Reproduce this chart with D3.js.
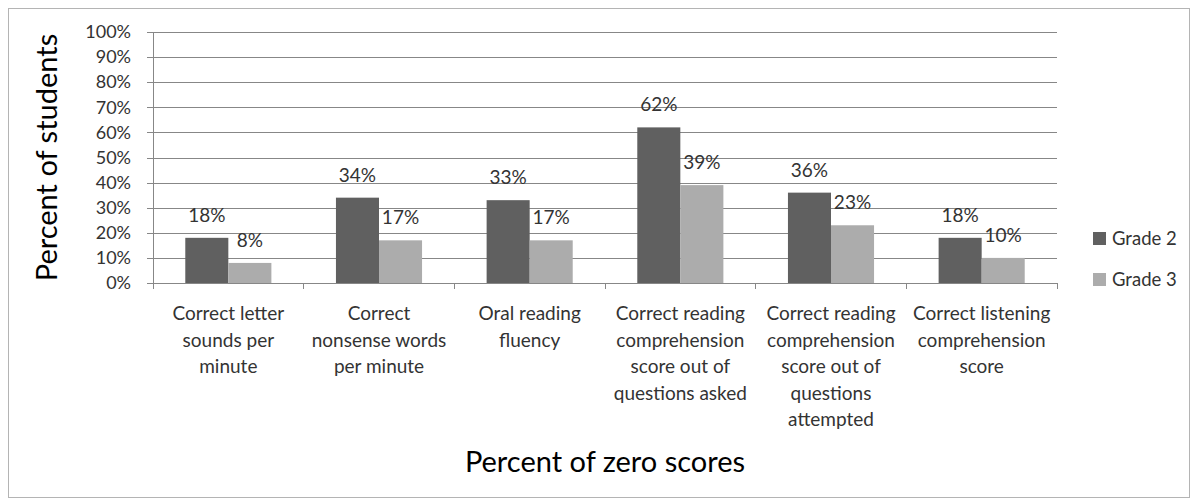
<!DOCTYPE html>
<meta charset="utf-8">
<head>
<script src="https://d3js.org/d3.v7.min.js"></script>
<style>
  body { margin: 0; background: #fff; }
  text { font-family: Lato, "Open Sans", sans-serif; fill: #333; }
</style>
</head>
<body>
<div class="viz"></div>
<script>
  // data
  var categories = [
    ["Correct letter", "sounds per", "minute"],
    ["Correct", "nonsense words", "per minute"],
    ["Oral reading", "fluency"],
    ["Correct reading", "comprehension", "score out of", "questions asked"],
    ["Correct reading", "comprehension", "score out of", "questions", "attempted"],
    ["Correct listening", "comprehension", "score"]
  ];
  var grade2 = [18, 34, 33, 62, 36, 18];
  var grade3 = [8, 17, 17, 39, 23, 10];
  var seriesNames = ["Grade 2", "Grade 3"];
  var yTicks = [0, 10, 20, 30, 40, 50, 60, 70, 80, 90, 100];

  var width = 1198, height = 502;
  var colors = d3.scaleOrdinal().domain(seriesNames).range(["#606060", "#acacac"]);

  var svg = d3.select("div.viz").append("svg")
    .attr("width", width)
    .attr("height", height);

  // outer frame
  svg.append("rect")
    .attr("x", 8.5).attr("y", 8.5)
    .attr("width", 1181).attr("height", 489)
    .style("fill", "none").style("stroke", "#b4b4b4");

  // plot box (window.top is read-only, so not "top")
  var pL = 153, pR = 1057, pT = 32, pB = 283;
  var keys = categories.map(function(d, i) { return i; });

  var x0 = d3.scaleBand().domain(keys).range([pL, pR]).padding(0);
  var x1 = d3.scaleBand().domain(seriesNames).range([0, x0.bandwidth()])
    .paddingInner(0).paddingOuter(0.75);
  var y = d3.scaleLinear().domain([0, 100]).range([pB, pT]);

  // gridlines + y axis
  var yAxis = d3.axisLeft(y).tickValues(yTicks)
    .tickSize(-(pR - pL)).tickSizeOuter(0).tickPadding(22)
    .tickFormat(function(d) { return d + "%"; });
  var gy = svg.append("g").attr("transform", "translate(" + pL + ",0)").call(yAxis);
  gy.select(".domain").remove();
  gy.selectAll(".tick line").attr("x1", -6).style("stroke", "#878787").attr("shape-rendering", "crispEdges");
  gy.selectAll(".tick text").style("font-size", "18px").style("fill", "#333").style("font-family", null);

  svg.append("line")
    .attr("x1", pL).attr("x2", pL).attr("y1", pT).attr("y2", pB)
    .style("stroke", "#878787").attr("shape-rendering", "crispEdges");

  // bars
  var rows = keys.map(function(i) {
    return { i: i, vals: [grade2[i], grade3[i]] };
  });
  var groups = svg.selectAll("g.cat").data(rows).enter().append("g")
    .attr("class", "cat")
    .attr("transform", function(d) { return "translate(" + x0(d.i) + ",0)"; });

  groups.selectAll("rect").data(function(d) {
    return d.vals.map(function(v, j) { return { name: seriesNames[j], v: v }; });
  }).enter().append("rect")
    .attr("x", function(d) { return x1(d.name); })
    .attr("y", function(d) { return y(d.v); })
    .attr("width", x1.bandwidth())
    .attr("height", function(d) { return pB - y(d.v); })
    .style("fill", function(d) { return colors(d.name); });

  groups.selectAll("text.lbl").data(function(d) {
    return d.vals.map(function(v, j) { return { name: seriesNames[j], v: v }; });
  }).enter().append("text")
    .attr("class", "lbl")
    .attr("x", function(d) { return x1(d.name) + x1.bandwidth() / 2; })
    .attr("y", function(d) { return y(d.v) - 16; })
    .attr("text-anchor", "middle")
    .style("font-size", "19px")
    .text(function(d) { return d.v + "%"; });

  // x axis
  svg.append("line")
    .attr("x1", pL).attr("x2", pR).attr("y1", pB).attr("y2", pB)
    .style("stroke", "#878787").attr("shape-rendering", "crispEdges");
  var bounds = keys.map(function(i) { return x0(i); }).concat([pR]);
  svg.selectAll("line.xtick").data(bounds).enter().append("line")
    .attr("class", "xtick")
    .attr("x1", function(d) { return d; }).attr("x2", function(d) { return d; })
    .attr("y1", pB).attr("y2", pB + 6)
    .style("stroke", "#878787").attr("shape-rendering", "crispEdges");

  var xl = svg.selectAll("text.xl").data(rows).enter().append("text")
    .attr("class", "xl")
    .attr("text-anchor", "middle")
    .style("font-size", "19px");
  xl.selectAll("tspan").data(function(d) { return categories[d.i].map(function(s) { return { s: s, i: d.i }; }); })
    .enter().append("tspan")
    .attr("x", function(d) { return x0(d.i) + x0.bandwidth() / 2; })
    .attr("y", function(d, k) { return 320 + k * 26.5; })
    .text(function(d) { return d.s; });

  // axis titles
  svg.append("text")
    .attr("transform", "translate(57," + ((pT + pB) / 2) + ") rotate(-90)")
    .attr("text-anchor", "middle")
    .style("font-size", "29px").style("fill", "#000")
    .text("Percent of students");

  svg.append("text")
    .attr("x", (pL + pR) / 2).attr("y", 472)
    .attr("text-anchor", "middle")
    .style("font-size", "29px").style("fill", "#000")
    .text("Percent of zero scores");

  // legend
  var leg = svg.selectAll("g.leg").data(seriesNames).enter().append("g")
    .attr("class", "leg")
    .attr("transform", function(d, j) { return "translate(1093," + (238 + j * 41) + ")"; });
  leg.append("rect").attr("x", 0).attr("y", -6).attr("width", 13).attr("height", 13)
    .style("fill", function(d) { return colors(d); });
  leg.append("text").attr("x", 19).attr("y", 7)
    .style("font-size", "18.5px")
    .text(function(d) { return d; });
</script>
</body>
